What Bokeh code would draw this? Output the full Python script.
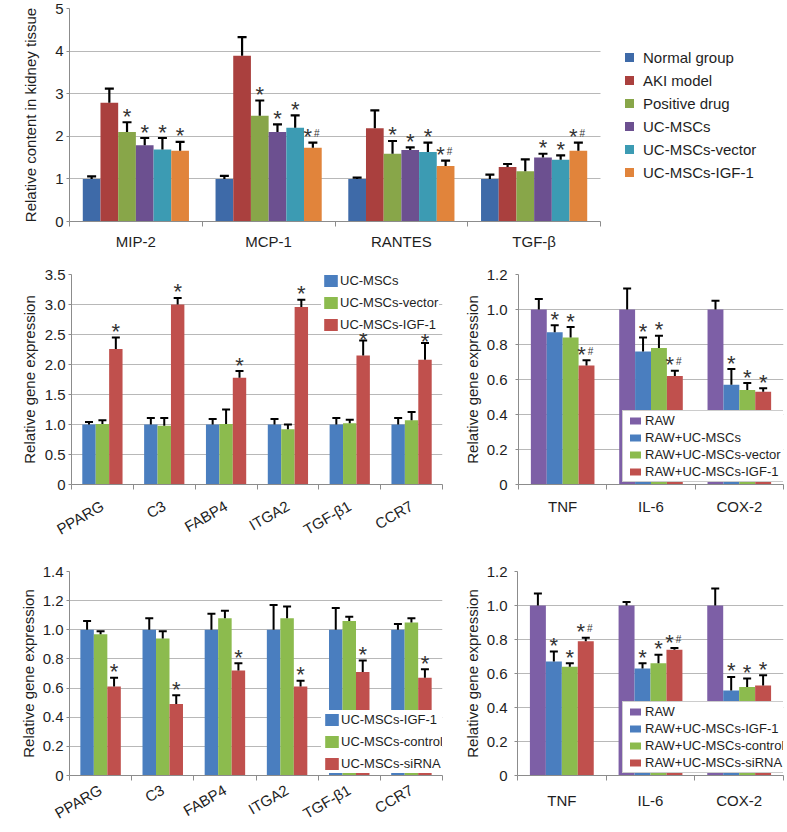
import math
from bokeh.plotting import figure
from bokeh.models import (Range1d, FixedTicker, ColumnDataSource, Whisker, TeeHead,
                          Legend, LegendItem, Label, BoxAnnotation)
from bokeh.layouts import column, row
from bokeh.embed import file_html
from bokeh.resources import INLINE
from bokeh.core.properties import value

# ---------------- data: panel a ----------------
a_categories = ["MIP-2", "MCP-1", "RANTES", "TGF-β"]
a_groups = ["Normal group", "AKI model", "Positive drug", "UC-MSCs", "UC-MSCs-vector", "UC-MSCs-IGF-1"]
a_normal = [1.00, 1.00, 1.00, 1.00]
a_aki = [2.79, 3.89, 2.19, 1.28]
a_drug = [2.10, 2.48, 1.59, 1.18]
a_ucmsc = [1.79, 2.10, 1.68, 1.50]
a_vector = [1.69, 2.20, 1.63, 1.45]
a_igf1 = [1.66, 1.73, 1.30, 1.66]
a_normal_sd = [0.06, 0.07, 0.03, 0.10]
a_aki_sd = [0.33, 0.44, 0.42, 0.07]
a_drug_sd = [0.23, 0.36, 0.30, 0.28]
a_ucmsc_sd = [0.17, 0.18, 0.06, 0.09]
a_vector_sd = [0.27, 0.29, 0.22, 0.10]
a_igf1_sd = [0.21, 0.12, 0.13, 0.19]
a_normal_sig = ["", "", "", ""]
a_aki_sig = ["", "", "", ""]
a_drug_sig = ["*", "*", "*", ""]
a_ucmsc_sig = ["*", "*", "*", "*"]
a_vector_sig = ["*", "*", "*", "*"]
a_igf1_sig = ["*", "*#", "*#", "*#"]
a_yticks = [0, 1, 2, 3, 4, 5]
a_ylabels = ["0", "1", "2", "3", "4", "5"]

# ---------------- data: panel b ----------------
b_genes = ["PPARG", "C3", "FABP4", "ITGA2", "TGF-β1", "CCR7"]
b_groups = ["UC-MSCs", "UC-MSCs-vector", "UC-MSCs-IGF-1"]
b_ucmsc = [1.00, 1.00, 1.00, 1.00, 1.00, 1.00]
b_vector = [1.01, 0.98, 1.01, 0.92, 1.02, 1.07]
b_igf1 = [2.26, 3.00, 1.78, 2.96, 2.15, 2.08]
b_ucmsc_sd = [0.04, 0.11, 0.09, 0.09, 0.11, 0.11]
b_vector_sd = [0.06, 0.13, 0.24, 0.08, 0.06, 0.14]
b_igf1_sd = [0.19, 0.11, 0.11, 0.12, 0.25, 0.28]
b_ucmsc_sig = ["", "", "", "", "", ""]
b_vector_sig = ["", "", "", "", "", ""]
b_igf1_sig = ["*", "*", "*", "*", "*", "*"]
b_yticks = [0, 0.5, 1.0, 1.5, 2.0, 2.5, 3.0, 3.5]
b_ylabels = ["0", "0.5", "1.0", "1.5", "2.0", "2.5", "3.0", "3.5"]

b2_genes = ["TNF", "IL-6", "COX-2"]
b2_groups = ["RAW", "RAW+UC-MSCs", "RAW+UC-MSCs-vector", "RAW+UC-MSCs-IGF-1"]
b2_raw = [1.00, 1.00, 1.00]
b2_ucmsc = [0.87, 0.76, 0.57]
b2_vector = [0.84, 0.78, 0.54]
b2_igf1 = [0.68, 0.62, 0.53]
b2_raw_sd = [0.06, 0.12, 0.05]
b2_ucmsc_sd = [0.04, 0.08, 0.09]
b2_vector_sd = [0.06, 0.07, 0.04]
b2_igf1_sd = [0.03, 0.03, 0.02]
b2_raw_sig = ["", "", ""]
b2_ucmsc_sig = ["*", "*", "*"]
b2_vector_sig = ["*", "*", "*"]
b2_igf1_sig = ["*#", "*#", "*"]
r_yticks = [0, 0.2, 0.4, 0.6, 0.8, 1.0, 1.2]
r_ylabels = ["0", "0.2", "0.4", "0.6", "0.8", "1.0", "1.2"]

# ---------------- data: panel c ----------------
c_genes = ["PPARG", "C3", "FABP4", "ITGA2", "TGF-β1", "CCR7"]
c_groups = ["UC-MSCs-IGF-1", "UC-MSCs-control", "UC-MSCs-siRNA"]
c_igf1 = [1.00, 1.00, 1.00, 1.00, 1.00, 1.00]
c_control = [0.97, 0.94, 1.08, 1.08, 1.06, 1.05]
c_sirna = [0.61, 0.49, 0.72, 0.61, 0.71, 0.67]
c_igf1_sd = [0.06, 0.08, 0.11, 0.17, 0.15, 0.04]
c_control_sd = [0.02, 0.05, 0.05, 0.08, 0.03, 0.03]
c_sirna_sd = [0.06, 0.06, 0.05, 0.04, 0.08, 0.06]
c_igf1_sig = ["", "", "", "", "", ""]
c_control_sig = ["", "", "", "", "", ""]
c_sirna_sig = ["*", "*", "*", "*", "*", "*"]
c_yticks = [0, 0.2, 0.4, 0.6, 0.8, 1.0, 1.2, 1.4]
c_ylabels = ["0", "0.2", "0.4", "0.6", "0.8", "1.0", "1.2", "1.4"]

c2_genes = ["TNF", "IL-6", "COX-2"]
c2_groups = ["RAW", "RAW+UC-MSCs-IGF-1", "RAW+UC-MSCs-control", "RAW+UC-MSCs-siRNA"]
c2_raw = [1.00, 1.00, 1.00]
c2_igf1 = [0.67, 0.63, 0.50]
c2_control = [0.64, 0.66, 0.52]
c2_sirna = [0.79, 0.74, 0.53]
c2_raw_sd = [0.07, 0.02, 0.10]
c2_igf1_sd = [0.06, 0.03, 0.08]
c2_control_sd = [0.02, 0.05, 0.05]
c2_sirna_sd = [0.02, 0.01, 0.06]
c2_raw_sig = ["", "", ""]
c2_igf1_sig = ["*", "*", "*"]
c2_control_sig = ["*", "*", "*"]
c2_sirna_sig = ["*#", "*#", "*"]

# ---------------- style ----------------
A_COLORS = ["#3e6aa8", "#aa403e", "#88a649", "#6c5090", "#3c9bb3", "#e1843b"]
BLUE, GREEN, RED, PURPLE = "#4a7ebf", "#8cbb4e", "#c0504d", "#7d5fa6"
FONT = "Liberation Sans"
AXIS_GRAY = "#8c8c8c"
GRID_GRAY = "#b8b8b8"
TEXT = "#1e1e1e"
MARK = "#333333"


def make_panel(fig_box, frame_box, cats, groups, vals, sds, sigs, colors, bar_w,
               yticks, ylabels, ylabel, rot="horizontal", ylab_standoff=10, ytick_standoff=3,
               xstandoff=6, err_w=2.0, cap=8, cat_px=None, star_nudge=None):
    fx0, fy0, fx1, fy1 = fig_box
    x0, y0, x1, y1 = frame_box
    n, k = len(cats), len(groups)
    star_nudge = star_nudge or {}
    xmax = n if cat_px is None else (x1 - x0) / cat_px
    p = figure(width=fx1 - fx0, height=fy1 - fy0, x_range=Range1d(0, xmax),
               y_range=Range1d(0, yticks[-1]), output_backend="svg",
               toolbar_location=None, tools="",
               min_border_left=x0 - fx0, min_border_right=fx1 - x1,
               min_border_top=y0 - fy0, min_border_bottom=fy1 - y1)
    p.outline_line_color = None
    p.xgrid.visible = False
    p.ygrid.grid_line_color = GRID_GRAY
    p.ygrid.grid_line_width = 1
    if cat_px is not None:
        # keep the gridlines inside the category area only
        p.add_layout(BoxAnnotation(left=n, fill_color="white", fill_alpha=1,
                                   line_color=None, level="underlay"))

    yax = p.yaxis[0]
    yax.ticker = FixedTicker(ticks=yticks)
    yax.major_label_overrides = dict(zip(yticks, ylabels))
    yax.axis_label = ylabel
    yax.axis_label_text_font = FONT
    yax.axis_label_text_font_style = "normal"
    yax.axis_label_text_font_size = "15px"
    yax.axis_label_text_color = TEXT
    yax.axis_label_standoff = ylab_standoff
    yax.major_label_text_font = FONT
    yax.major_label_text_font_size = "15px"
    yax.major_label_text_color = TEXT
    yax.major_label_standoff = ytick_standoff
    yax.major_tick_out = 3
    yax.major_tick_in = 0
    yax.minor_tick_line_color = None
    yax.axis_line_color = AXIS_GRAY
    yax.major_tick_line_color = AXIS_GRAY

    centers = [i + 0.5 for i in range(n)]
    xax = p.xaxis[0]
    xax.ticker = FixedTicker(ticks=centers, minor_ticks=list(range(n + 1)))
    xax.major_label_overrides = dict(zip(centers, cats))
    xax.bounds = (0, n)
    xax.major_label_text_font = FONT
    xax.major_label_text_font_size = "15px"
    xax.major_label_text_color = TEXT
    xax.major_label_standoff = xstandoff
    xax.major_label_orientation = rot
    xax.major_tick_line_color = None
    xax.major_tick_out = 0
    xax.major_tick_in = 0
    xax.minor_tick_line_color = AXIS_GRAY
    xax.minor_tick_out = 5
    xax.minor_tick_in = 0
    xax.axis_line_color = AXIS_GRAY

    bars, sources = [], []
    for j in range(k):
        off = (j - (k - 1) / 2) * bar_w
        xs = [i + 0.5 + off for i in range(n)]
        up = [v + e for v, e in zip(vals[j], sds[j])]
        star = ["*" if "*" in s else "" for s in sigs[j]]
        hsh = ["#" if "#" in s else "" for s in sigs[j]]
        sdx = [-5 if "#" in s else 0 for s in sigs[j]]
        sdy = [-6 + star_nudge.get((groups[j], cats[i]), 0) for i in range(n)]
        src = ColumnDataSource(dict(x=xs, top=vals[j], up=up, star=star, hsh=hsh,
                                    sdx=sdx, sdy=sdy))
        r = p.vbar(x="x", top="top", bottom=0, width=bar_w, source=src,
                   fill_color=colors[j], line_color=None)
        bars.append(r)
        sources.append(src)
        p.add_layout(Whisker(source=src, base="x", lower="top", upper="up",
                             line_color="black", line_width=err_w, level="glyph",
                             upper_head=TeeHead(size=cap, line_color="black", line_width=err_w),
                             lower_head=None))
        p.text(x="x", y="up", text="star", source=src, x_offset="sdx", y_offset="sdy",
               text_font=value(FONT), text_font_size="22px", level="overlay",
               text_align="center", text_baseline="middle", text_color=MARK)
        p.text(x="x", y="up", text="hsh", source=src, x_offset=4, y_offset=-9,
               text_font=value(FONT), text_font_size="10px", level="overlay",
               text_align="center", text_baseline="middle", text_color=MARK)
    return p, bars, sources


def panel_letter(p, txt, frame_box, lx, baseline):
    x0, y0, x1, y1 = frame_box
    p.add_layout(Label(x=lx - x0, y=y1 - baseline, x_units="screen", y_units="screen",
                       text=txt, text_font=FONT, text_font_size="23px", text_color="black",
                       text_baseline="alphabetic"))


def swatch_renderers(p, sources, colors, bar_w, outline):
    """Hidden copies of the bars, used only to draw small legend swatches
    (a white outline trims the swatch to the size seen in the figure)."""
    out = []
    for src, c in zip(sources, colors):
        out.append(p.vbar(x="x", top="top", bottom=0, width=bar_w, source=src,
                          fill_color=c, line_color="white", line_width=outline,
                          visible=False))
    return out


def box_legend(p, names, rends, frame_box, box_left, box_bottom):
    x0, y0, x1, y1 = frame_box
    leg = Legend(items=[LegendItem(label=nm, renderers=[r]) for nm, r in zip(names, rends)],
                 location=(box_left - x0, y1 - box_bottom),
                 glyph_width=20, glyph_height=15, label_height=15, label_width=10,
                 spacing=2, padding=2, margin=0, label_standoff=0,
                 label_text_font=FONT, label_text_font_size="13px", label_text_color=TEXT,
                 border_line_color="#9a9a9a", border_line_width=1,
                 background_fill_color="white", background_fill_alpha=1)
    p.add_layout(leg)


# ---------------- panel a ----------------
A_FRAME = (69, 8, 787, 221)
pa, ra, sa = make_panel((0, 0, 787, 262), A_FRAME, a_categories, a_groups,
                        [a_normal, a_aki, a_drug, a_ucmsc, a_vector, a_igf1],
                        [a_normal_sd, a_aki_sd, a_drug_sd, a_ucmsc_sd, a_vector_sd, a_igf1_sd],
                        [a_normal_sig, a_aki_sig, a_drug_sig, a_ucmsc_sig, a_vector_sig, a_igf1_sig],
                        A_COLORS, 0.1333, a_yticks, a_ylabels, "Relative content in kidney tissue",
                        ylab_standoff=13, xstandoff=6, err_w=2.2, cap=9, cat_px=132.75)
sw_a = swatch_renderers(pa, sa, A_COLORS, 0.1333, 8.6)
leg_a = Legend(items=[LegendItem(label=nm, renderers=[r]) for nm, r in zip(a_groups, sw_a)],
               location=(618 - 69, 221 - 183),
               glyph_width=22, glyph_height=22, label_height=22, label_width=10,
               spacing=1, padding=0, margin=0, label_standoff=3,
               label_text_font=FONT, label_text_font_size="15px", label_text_color=TEXT,
               border_line_color=None, background_fill_alpha=0)
pa.add_layout(leg_a)
panel_letter(pa, "a", A_FRAME, 1, 15)

# ---------------- panel b ----------------
BL_FRAME = (71, 273, 442, 487)
pbl, rbl, _ = make_panel((0, 262, 455, 548), BL_FRAME, b_genes, b_groups,
                         [b_ucmsc, b_vector, b_igf1], [b_ucmsc_sd, b_vector_sd, b_igf1_sd],
                         [b_ucmsc_sig, b_vector_sig, b_igf1_sig], [BLUE, GREEN, RED], 0.217,
                         b_yticks, b_ylabels, "Relative gene expression", rot=math.pi / 6,
                         ylab_standoff=4, xstandoff=15, err_w=2.0, cap=8,
                         star_nudge={("UC-MSCs-IGF-1", "TGF-β1"): 5,
                                     ("UC-MSCs-IGF-1", "CCR7"): 5})
leg_bl = Legend(items=[LegendItem(label=nm, renderers=[r]) for nm, r in zip(b_groups, rbl)],
                location=(321 - BL_FRAME[0], BL_FRAME[3] - 336),
                glyph_width=17, glyph_height=15, label_height=15, label_width=10,
                spacing=7, padding=1, margin=0, label_standoff=1,
                label_text_font=FONT, label_text_font_size="13px", label_text_color=TEXT,
                border_line_color="white", border_line_alpha=0,
                background_fill_color="white", background_fill_alpha=1)
pbl.add_layout(leg_bl)
panel_letter(pbl, "b", BL_FRAME, 1, 285)

BR_FRAME = (518, 274, 783, 487)
BR_COLORS = [PURPLE, BLUE, GREEN, RED]
pbr, _, sbr = make_panel((455, 262, 787, 548), BR_FRAME, b2_genes, b2_groups,
                         [b2_raw, b2_ucmsc, b2_vector, b2_igf1],
                         [b2_raw_sd, b2_ucmsc_sd, b2_vector_sd, b2_igf1_sd],
                         [b2_raw_sig, b2_ucmsc_sig, b2_vector_sig, b2_igf1_sig],
                         BR_COLORS, 0.18, r_yticks, r_ylabels,
                         "Relative gene expression", ylab_standoff=3, ytick_standoff=8,
                         xstandoff=8, err_w=2.0, cap=8)
box_legend(pbr, b2_groups, swatch_renderers(pbr, sbr, BR_COLORS, 0.18, 5), BR_FRAME, 622, 485)

# ---------------- panel c ----------------
CL_FRAME = (69, 571, 442, 782)
pcl, rcl, _ = make_panel((0, 548, 455, 832), CL_FRAME, c_genes, c_groups,
                         [c_igf1, c_control, c_sirna], [c_igf1_sd, c_control_sd, c_sirna_sd],
                         [c_igf1_sig, c_control_sig, c_sirna_sig], [BLUE, GREEN, RED], 0.217,
                         c_yticks, c_ylabels, "Relative gene expression", rot=math.pi / 6,
                         ylab_standoff=3, xstandoff=8, err_w=2.0, cap=8)
leg_cl = Legend(items=[LegendItem(label=nm, renderers=[r]) for nm, r in zip(c_groups, rcl)],
                location=(321 - CL_FRAME[0], CL_FRAME[3] - 780),
                glyph_width=17, glyph_height=15, label_height=15, label_width=10,
                spacing=7, padding=2, margin=0, label_standoff=1,
                label_text_font=FONT, label_text_font_size="13px", label_text_color=TEXT,
                border_line_color="white", border_line_alpha=0,
                background_fill_color="white", background_fill_alpha=1)
pcl.add_layout(leg_cl)
panel_letter(pcl, "c", CL_FRAME, 1, 575)

CR_FRAME = (517, 571, 783, 784)
pcr, _, scr = make_panel((455, 548, 787, 832), CR_FRAME, c2_genes, c2_groups,
                         [c2_raw, c2_igf1, c2_control, c2_sirna],
                         [c2_raw_sd, c2_igf1_sd, c2_control_sd, c2_sirna_sd],
                         [c2_raw_sig, c2_igf1_sig, c2_control_sig, c2_sirna_sig],
                         BR_COLORS, 0.18, r_yticks, r_ylabels,
                         "Relative gene expression", ylab_standoff=3, ytick_standoff=7,
                         xstandoff=11, err_w=2.0, cap=8)
box_legend(pcr, c2_groups, swatch_renderers(pcr, scr, BR_COLORS, 0.18, 5), CR_FRAME, 622, 782)

layout = column(pa, row(pbl, pbr, spacing=0), row(pcl, pcr, spacing=0), spacing=0)
open("out.html", "w").write(file_html(layout, INLINE))
